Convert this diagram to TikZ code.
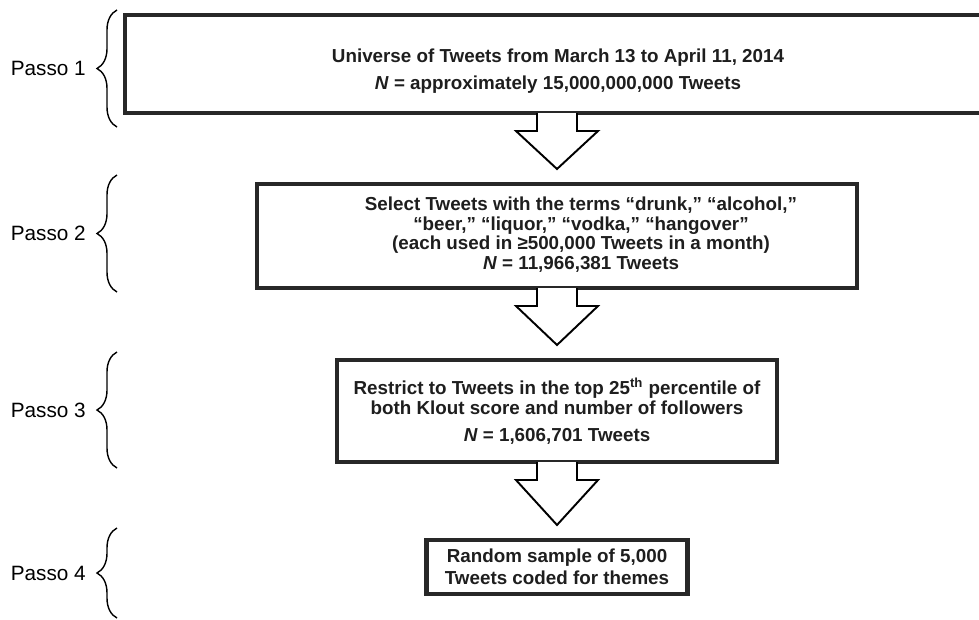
\documentclass[tikz,border=0pt]{standalone}
\usepackage{fontspec}
\setmainfont{Liberation Sans}
\usetikzlibrary{decorations.pathreplacing,calc}
\definecolor{boxInk}{RGB}{40,40,40}
\definecolor{textInk}{RGB}{30,30,30}
\def\px{0.02cm}
\tikzset{
  flow box/.style={draw=boxInk,line width=2.3pt,fill=white,align=center,text=textInk,font=\fontsize{10.7}{11.2}\selectfont\bfseries,inner sep=0pt},
  flow arrow/.style={draw=black,line width=1.1pt,fill=white,line join=miter},
  passo brace/.style={decorate,decoration={brace,amplitude=0.4cm},line width=0.8pt},
  passo label/.style={font=\fontsize{11.8}{13}\selectfont,text=black}
}
% block arrow from the upper box to the lower box, on the common axis
\newcommand\flowarrow[2]{%
  \draw[flow arrow] (ax |- #1.south) ++(-20,-2) -- ++(0,18) -- ++(-21,0)
    -- ($(ax |- #2.north)+(0,-13)$) -- ($(ax |- #1.south)+(41,16)$)
    -- ++(-21,0) -- ++(0,-18);}

\begin{document}
\begin{tikzpicture}[x=\px,y=-\px]
  \useasboundingbox (0,0) rectangle (979,619);
  \clip (0,0) rectangle (979,619);
  \coordinate (ax) at (557,0);

  % steps
  \node[flow box,minimum width=866*\px,minimum height=98*\px] (b1) at (558,64)
    {\rule{0pt}{16pt}Universe of Tweets from March 13 to April 11, 2014\\[4.5pt]
     \textit{N} = approximately 15,000,000,000 Tweets};
  \node[flow box,minimum width=600*\px,minimum height=104*\px] (b2) at (557,236)
    {\hspace*{0.96cm}\begin{tabular}{@{}c@{}}
     Select Tweets with the terms “drunk,” “alcohol,”\\
     “beer,” “liquor,” “vodka,” “hangover”\\
     (each used in ≥500,000 Tweets in a month)\\
     \textit{N} = 11,966,381 Tweets\end{tabular}};
  \node[flow box,minimum width=440*\px,minimum height=102*\px] (b3) at (557,411)
    {Restrict to Tweets in the top 25\textsuperscript{th} percentile of\\
     both Klout score and number of followers\\[4pt]
     \textit{N} = 1,606,701 Tweets};
  \node[flow box,minimum width=261*\px,minimum height=54*\px] (b4) at (557,567)
    {Random sample of 5,000\\[1.5pt]
     Tweets coded for themes};

  \flowarrow{b1}{b2}
  \flowarrow{b2}{b3}
  \flowarrow{b3}{b4}

  % passo labels
  \foreach \i/\ya/\yb in {1/10/127,2/175/292,3/352/468,4/528/618} {
    \draw[passo brace] (117,\yb) -- (117,\ya);
    \node[passo label,anchor=east] (passo\i) at (92,{(\ya+\yb)/2}) {Passo \i};
  }
\end{tikzpicture}
\end{document}
